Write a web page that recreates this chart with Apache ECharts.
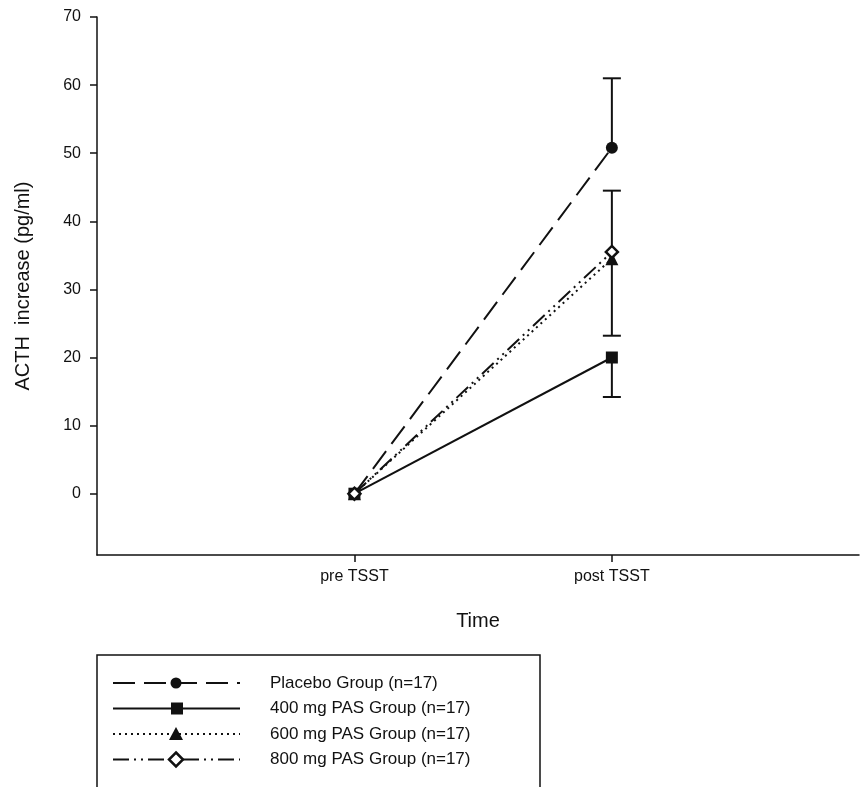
<!DOCTYPE html>
<html><head><meta charset="utf-8">
<script src="https://cdn.jsdelivr.net/npm/echarts@6/dist/echarts.min.js"></script>
<style>html,body{margin:0;padding:0;background:#fff}#c{width:861px;height:787px}</style>
</head><body><div id="c"></div>
<script>
var times = ['pre TSST', 'post TSST'];
var xPos = [1, 2];
var names = ['Placebo Group (n=17)', '400 mg PAS Group (n=17)', '600 mg PAS Group (n=17)', '800 mg PAS Group (n=17)'];
var placebo = [0, 50.8];
var pas400 = [0, 20.0];
var pas600 = [0, 34.5];
var pas800 = [0, 35.5];
// error bars at post TSST: [x, value, end]
var errBars = [[2, 50.8, 61.0], [2, 20.0, 14.2], [2, 34.5, 23.2], [2, 35.5, 44.5]];
var yTicks = [0, 10, 20, 30, 40, 50, 60, 70];

var chart = echarts.init(document.getElementById('c'));
var font = 'Liberation Sans, Arial, sans-serif';
var dashes = [[22, 9], 'solid', [2, 4], [16, 5, 2, 5, 2, 5]];
var symbols = ['circle', 'rect', 'triangle', 'path://M0,-10L10,0L0,10L-10,0Z'];
var sizes = [12, 12, 13, 12];
var fills = ['#111', '#111', '#111', '#fff'];
var sets = [placebo, pas400, pas600, pas800];

var series = sets.map(function (vals, i) {
	return {
		name: names[i], type: 'line',
		data: vals.map(function (v, j) { return [xPos[j], v]; }),
		symbol: symbols[i], symbolSize: sizes[i],
		lineStyle: { color: '#111', width: 2, type: dashes[i] },
		itemStyle: { color: fills[i], borderColor: '#111', borderWidth: i === 3 ? 2.5 : 0 },
		z: 3
	};
});
series.push({
	type: 'custom', z: 2,
	data: errBars,
	renderItem: function (params, api) {
		var a = api.coord([api.value(0), api.value(1)]);
		var b = api.coord([api.value(0), api.value(2)]);
		var st = { stroke: '#111', lineWidth: 2 };
		return { type: 'group', children: [
			{ type: 'line', shape: { x1: a[0], y1: a[1], x2: b[0], y2: b[1] }, style: st },
			{ type: 'line', shape: { x1: b[0] - 9, y1: b[1], x2: b[0] + 9, y2: b[1] }, style: st }
		] };
	}
});

// legend drawn as graphic
var legend = [{ type: 'rect', shape: { x: 97, y: 655, width: 443, height: 140 }, style: { fill: 'none', stroke: '#111', lineWidth: 1.5 } }];
names.forEach(function (n, i) {
	var y = 683 + i * 25.5;
	legend.push({ type: 'line', shape: { x1: 113, y1: y, x2: 240, y2: y },
		style: { stroke: '#111', lineWidth: 2, lineDash: dashes[i] === 'solid' ? null : dashes[i] } });
	var sym = i === 0 ? { type: 'circle', shape: { cx: 176, cy: y, r: 5.5 }, style: { fill: '#111' } }
		: i === 1 ? { type: 'rect', shape: { x: 171, y: y - 6, width: 12, height: 12 }, style: { fill: '#111' } }
		: i === 2 ? { type: 'polygon', shape: { points: [[176, y - 7], [183, y + 6], [169, y + 6]] }, style: { fill: '#111' } }
		: { type: 'polygon', shape: { points: [[176, y - 7], [183, y], [176, y + 7], [169, y]] }, style: { fill: '#fff', stroke: '#111', lineWidth: 2.5 } };
	legend.push(sym);
	legend.push({ type: 'text', x: 270, y: y, style: { text: n, font: '17px ' + font, fill: '#111', verticalAlign: 'middle' } });
});

chart.setOption({
	animation: false,
	grid: { left: 97, right: 2, top: 17, bottom: 232 },
	xAxis: {
		type: 'value', min: 0, max: 2.96, name: 'Time', nameLocation: 'middle', nameGap: 56,
		nameTextStyle: { fontSize: 20, color: '#111', fontFamily: font },
		axisLine: { onZero: false, lineStyle: { color: '#111', width: 1.5 } },
		axisTick: { customValues: xPos, length: 7, lineStyle: { color: '#111', width: 1.5 } },
		axisLabel: { customValues: xPos, fontSize: 16, color: '#111', fontFamily: font, margin: 14,
			formatter: function (v) { return times[xPos.indexOf(v)] || ''; } },
		splitLine: { show: false }
	},
	yAxis: {
		type: 'value', min: -9, max: 70, name: 'ACTH  increase (pg/ml)', nameLocation: 'middle', nameGap: 64,
		nameTextStyle: { fontSize: 20, color: '#111', fontFamily: font },
		axisLine: { show: true, lineStyle: { color: '#111', width: 1.5 } },
		axisTick: { show: true, customValues: yTicks, length: 7, lineStyle: { color: '#111', width: 1.5 } },
		axisLabel: { customValues: yTicks, fontSize: 16, color: '#111', fontFamily: font, margin: 16 },
		splitLine: { show: false }
	},
	series: series,
	graphic: legend
});
</script></body></html>
